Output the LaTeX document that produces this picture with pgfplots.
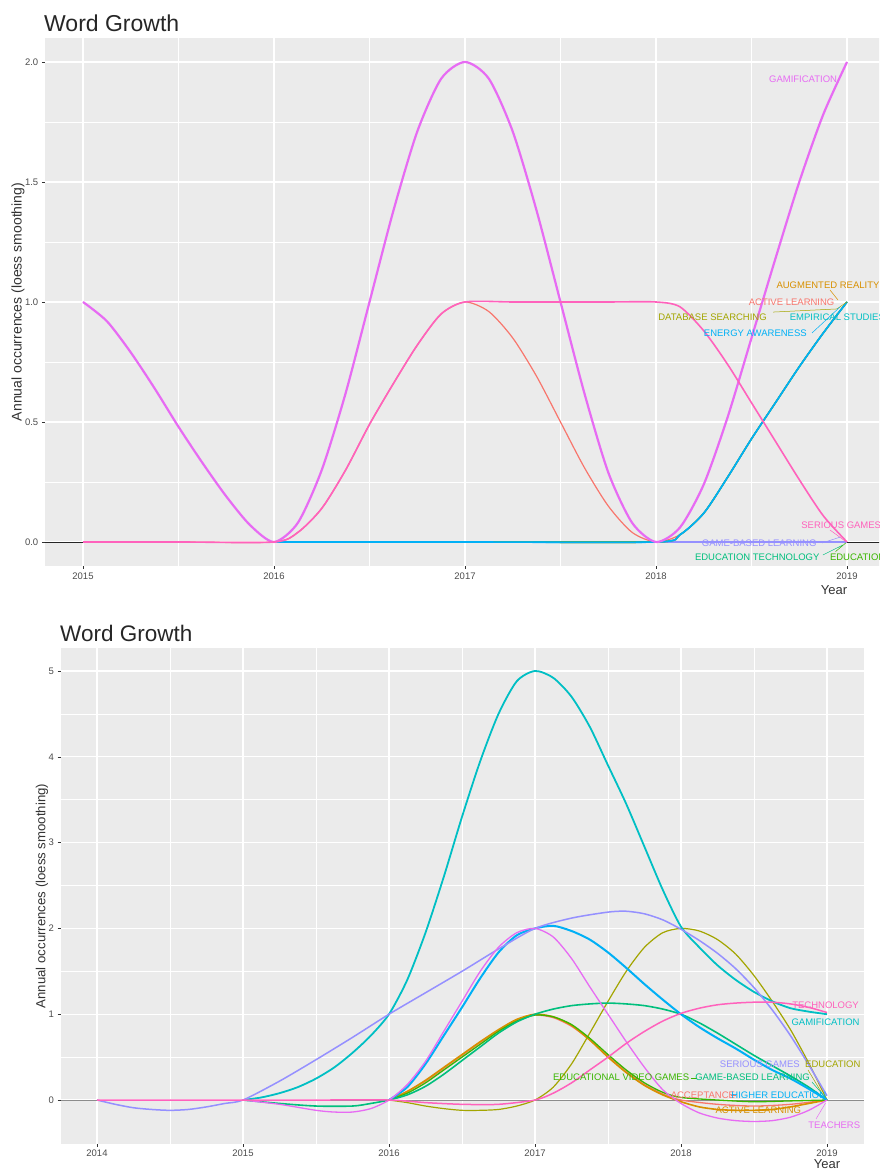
\documentclass[border=0pt]{standalone}
\usepackage{pgfplots}
\pgfplotsset{compat=1.18}
\usepackage{fontspec}
\setmainfont{Liberation Sans}
\definecolor{panel}{HTML}{EBEBEB}
\definecolor{hA}{HTML}{F8766D}
\definecolor{hB}{HTML}{D89000}
\definecolor{hC}{HTML}{A3A500}
\definecolor{hD}{HTML}{39B600}
\definecolor{hE}{HTML}{00BF7D}
\definecolor{hF}{HTML}{00BFC4}
\definecolor{hG}{HTML}{00B0F6}
\definecolor{hH}{HTML}{9590FF}
\definecolor{hI}{HTML}{E76BF3}
\definecolor{hJ}{HTML}{FF62BC}
\pgfplotsset{
  gg/.style={
    scale only axis, clip=false,
    axis background/.style={fill=panel},
    axis line style={draw=none},
    grid=both,
    major grid style={white, line width=1.1pt},
    minor grid style={white, line width=0.55pt},
    tick align=outside, tick pos=left,
    major tick length=3pt, minor tick length=0pt,
    tick style={black!80, line width=0.5pt},
    tick label style={font=\fontsize{9.5}{10}\selectfont, text=black!70},
    /pgf/number format/assume math mode=true,
  },
}
\tikzset{
  sm/.style={smooth, tension=0.45, line join=round},
  lab/.style={font=\fontsize{9.5}{10}\selectfont, inner sep=0pt},
}
\begin{document}
\begin{tikzpicture}
\path[use as bounding box] (0,0) rectangle (879pt,1169pt);
\clip (0,0) rectangle (879pt,1169pt);

% ---------------- top panel ----------------
\begin{axis}[gg,
  at={(44.8pt,603pt)}, anchor=south west,
  width=840.4pt, height=528pt,
  xmin=2014.8, xmax=2019.2, ymin=-0.1, ymax=2.1,
  xtick={2015,2016,2017,2018,2019}, xticklabels={2015,2016,2017,2018,2019},
  minor xtick={2015.5,2016.5,2017.5,2018.5},
  ytick={0,0.5,1,1.5,2}, yticklabels={0.0,0.5,1.0,1.5,2.0},
  minor ytick={0.25,0.75,1.25,1.75},
]
\addplot[black!85, line width=0.7pt] coordinates {(2014.8,0) (2019.2,0)};
% zero series
\addplot[sm, hD, line width=1.4pt] coordinates {(2016,0) (2019,0)};
\addplot[sm, hE, line width=1.4pt] coordinates {(2016,0) (2019,0)};
\addplot[sm, hH, line width=1.4pt] coordinates {(2018,0) (2019,0)};
% ACTIVE LEARNING
\addplot[sm, hA, line width=1.2pt] coordinates {(2015,0) (2015.5,0) (2016,0) (2016.125,0.04) (2016.25,0.14) (2016.375,0.3) (2016.5,0.49) (2016.625,0.66) (2016.75,0.82) (2016.875,0.95) (2017,1.0) (2017.125,0.96) (2017.25,0.85) (2017.375,0.69) (2017.5,0.5) (2017.625,0.31) (2017.75,0.15) (2017.875,0.04) (2018,0) (2018.125,0.03) (2018.25,0.12) (2018.375,0.27) (2018.5,0.43) (2018.625,0.58) (2018.75,0.73) (2018.875,0.87) (2019,1.0)};
% AUGMENTED REALITY
\addplot[sm, hB, line width=1.4pt] coordinates {(2016,0) (2017,0) (2018,0) (2018.125,0.03) (2018.25,0.12) (2018.375,0.27) (2018.5,0.43) (2018.625,0.58) (2018.75,0.73) (2018.875,0.87) (2019,1.0)};
% DATABASE SEARCHING
\addplot[sm, hC, line width=1.4pt] coordinates {(2016,0) (2017,0) (2018,0) (2018.125,0.03) (2018.25,0.12) (2018.375,0.27) (2018.5,0.43) (2018.625,0.58) (2018.75,0.73) (2018.875,0.87) (2019,1.0)};
% EMPIRICAL STUDIES
\addplot[sm, hF, line width=1.5pt] coordinates {(2016,0) (2017,0) (2018,0) (2018.125,0.03) (2018.25,0.12) (2018.375,0.27) (2018.5,0.43) (2018.625,0.58) (2018.75,0.73) (2018.875,0.87) (2019,1.0)};
% ENERGY AWARENESS
\addplot[sm, hG, line width=1.6pt] coordinates {(2016,0) (2017,0) (2018,0) (2018.125,0.03) (2018.25,0.12) (2018.375,0.27) (2018.5,0.43) (2018.625,0.58) (2018.75,0.73) (2018.875,0.87) (2019,1.0)};
% GAMIFICATION
\addplot[sm, hI, line width=2.2pt] coordinates {(2015,1) (2015.125,0.92) (2015.25,0.79) (2015.375,0.64) (2015.5,0.48) (2015.625,0.33) (2015.75,0.19) (2015.875,0.07) (2016,0) (2016.125,0.08) (2016.25,0.30) (2016.375,0.62) (2016.5,1.0) (2016.625,1.38) (2016.75,1.71) (2016.875,1.93) (2017,2.0) (2017.125,1.93) (2017.25,1.71) (2017.375,1.38) (2017.5,1.0) (2017.625,0.62) (2017.75,0.29) (2017.875,0.08) (2018,0) (2018.125,0.06) (2018.25,0.24) (2018.375,0.52) (2018.5,0.85) (2018.625,1.18) (2018.75,1.5) (2018.875,1.78) (2019,2.0)};
% SERIOUS GAMES
\addplot[sm, hJ, line width=1.6pt] coordinates {(2015,0) (2015.5,0) (2016,0) (2016.125,0.04) (2016.25,0.14) (2016.375,0.3) (2016.5,0.49) (2016.625,0.66) (2016.75,0.82) (2016.875,0.95) (2017,1.0) (2017.25,1.0) (2017.5,1.0) (2017.75,1.0) (2018,1.0) (2018.125,0.98) (2018.25,0.88) (2018.375,0.74) (2018.5,0.58) (2018.625,0.42) (2018.75,0.26) (2018.875,0.11) (2019,0)};
% label segments
\draw[hC, line width=0.5pt] (axis cs:2018.613,0.958) -- (axis cs:2018.947,0.971) -- (axis cs:2019,1);
\draw[hG, line width=0.5pt] (axis cs:2018.817,0.871) -- (axis cs:2018.963,0.979);
\draw[hB, line width=0.5pt] (axis cs:2018.911,1.05) -- (axis cs:2018.953,1.008);
\draw[hJ, line width=0.5pt] (axis cs:2018.911,0.05) -- (axis cs:2018.99,0.004);
\draw[hH, line width=0.5pt] (axis cs:2018.87,-0.004) -- (axis cs:2018.963,0.02);
\draw[hE, line width=0.5pt] (axis cs:2018.874,-0.054) -- (axis cs:2018.979,-0.0125);
\draw[hD, line width=0.5pt] (axis cs:2018.94,-0.04) -- (axis cs:2018.995,-0.003);
% labels
\node[lab, text=hI] at (axis cs:2018.77,1.93) {GAMIFICATION};
\node[lab, text=hB, anchor=west] at (axis cs:2018.63,1.07) {AUGMENTED REALITY};
\node[lab, text=hA] at (axis cs:2018.71,1.0) {ACTIVE LEARNING};
\node[lab, text=hC] at (axis cs:2018.296,0.9375) {DATABASE SEARCHING};
\node[lab, text=hF, anchor=west] at (axis cs:2018.70,0.9375) {EMPIRICAL STUDIES};
\node[lab, text=hG] at (axis cs:2018.52,0.871) {ENERGY AWARENESS};
\node[lab, text=hJ, anchor=west] at (axis cs:2018.76,0.07) {SERIOUS GAMES};
\node[lab, text=hH] at (axis cs:2018.54,-0.004) {GAME-BASED LEARNING};
\node[lab, text=hE] at (axis cs:2018.53,-0.0625) {EDUCATION TECHNOLOGY};
\node[lab, text=hD, anchor=west] at (axis cs:2018.91,-0.0625) {EDUCATION};
\end{axis}

% ---------------- bottom panel ----------------
\begin{axis}[gg,
  at={(60.5pt,25.2pt)}, anchor=south west,
  width=803pt, height=496pt,
  xmin=2013.75, xmax=2019.25, ymin=-0.51, ymax=5.27,
  xtick={2014,2015,2016,2017,2018,2019}, xticklabels={2014,2015,2016,2017,2018,2019},
  minor xtick={2014.5,2015.5,2016.5,2017.5,2018.5},
  ytick={0,1,2,3,4,5}, yticklabels={0,1,2,3,4,5},
  minor ytick={0.5,1.5,2.5,3.5,4.5},
]
\addplot[black!45, line width=0.8pt] coordinates {(2013.75,0) (2019.25,0)};
% ACCEPTANCE
\addplot[sm, hA, line width=1.3pt] coordinates {(2016,0) (2016.125,0.1) (2016.25,0.22) (2016.375,0.37) (2016.5,0.52) (2016.625,0.67) (2016.75,0.81) (2016.875,0.93) (2017,0.99) (2017.125,0.96) (2017.25,0.86) (2017.375,0.7) (2017.5,0.51) (2017.625,0.33) (2017.75,0.18) (2017.875,0.07) (2018,0.0) (2018.25,-0.05) (2018.5,-0.07) (2018.75,-0.05) (2019,0)};
% ACTIVE LEARNING
\addplot[sm, hB, line width=1.6pt] coordinates {(2016,0) (2016.125,0.1) (2016.25,0.23) (2016.375,0.38) (2016.5,0.53) (2016.625,0.68) (2016.75,0.82) (2016.875,0.94) (2017,1.0) (2017.125,0.97) (2017.25,0.87) (2017.375,0.7) (2017.5,0.5) (2017.625,0.32) (2017.75,0.17) (2017.875,0.06) (2018,-0.02) (2018.125,-0.08) (2018.25,-0.11) (2018.375,-0.12) (2018.5,-0.12) (2018.625,-0.11) (2018.75,-0.08) (2018.875,-0.04) (2019,0)};
% EDUCATION
\addplot[sm, hC, line width=1.2pt] coordinates {(2016,0) (2016.125,-0.03) (2016.25,-0.07) (2016.375,-0.1) (2016.5,-0.12) (2016.625,-0.12) (2016.75,-0.11) (2016.875,-0.07) (2017,0) (2017.125,0.15) (2017.25,0.42) (2017.375,0.78) (2017.5,1.15) (2017.625,1.5) (2017.75,1.78) (2017.875,1.95) (2018,2.0) (2018.125,1.97) (2018.25,1.87) (2018.375,1.7) (2018.5,1.45) (2018.625,1.15) (2018.75,0.82) (2018.875,0.43) (2019,0)};
% EDUCATIONAL VIDEO GAMES
\addplot[sm, hD, line width=1.3pt] coordinates {(2016,0) (2016.125,0.08) (2016.25,0.2) (2016.375,0.35) (2016.5,0.5) (2016.625,0.65) (2016.75,0.8) (2016.875,0.92) (2017,0.99) (2017.125,0.97) (2017.25,0.88) (2017.375,0.72) (2017.5,0.53) (2017.625,0.35) (2017.75,0.2) (2017.875,0.09) (2018,0.03) (2018.25,0.0) (2018.5,-0.02) (2018.75,-0.01) (2019,0)};
% GAME-BASED LEARNING
\addplot[sm, hE, line width=1.6pt] coordinates {(2015,0) (2015.25,-0.04) (2015.5,-0.07) (2015.75,-0.07) (2015.875,-0.04) (2016,0) (2016.125,0.06) (2016.25,0.16) (2016.375,0.3) (2016.5,0.46) (2016.625,0.62) (2016.75,0.78) (2016.875,0.91) (2017,1.0) (2017.125,1.06) (2017.25,1.1) (2017.375,1.12) (2017.5,1.13) (2017.625,1.12) (2017.75,1.1) (2017.875,1.06) (2018,1.0) (2018.125,0.9) (2018.25,0.78) (2018.375,0.65) (2018.5,0.52) (2018.625,0.4) (2018.75,0.28) (2018.875,0.15) (2019,0)};
% GAMIFICATION
\addplot[sm, hF, line width=1.8pt] coordinates {(2015,0) (2015.125,0.03) (2015.25,0.08) (2015.375,0.15) (2015.5,0.25) (2015.625,0.38) (2015.75,0.55) (2015.875,0.75) (2016,1.0) (2016.125,1.4) (2016.25,1.95) (2016.375,2.6) (2016.5,3.3) (2016.625,3.95) (2016.75,4.5) (2016.875,4.88) (2017,5.0) (2017.125,4.92) (2017.25,4.7) (2017.375,4.35) (2017.5,3.9) (2017.625,3.45) (2017.75,2.95) (2017.875,2.45) (2018,2.02) (2018.125,1.78) (2018.25,1.57) (2018.375,1.4) (2018.5,1.26) (2018.625,1.15) (2018.75,1.07) (2018.875,1.03) (2019,1.0)};
% HIGHER EDUCATION
\addplot[sm, hG, line width=2.0pt] coordinates {(2016,0) (2016.125,0.15) (2016.25,0.42) (2016.375,0.75) (2016.5,1.08) (2016.625,1.42) (2016.75,1.72) (2016.875,1.92) (2017,2.0) (2017.125,2.03) (2017.25,1.97) (2017.375,1.87) (2017.5,1.72) (2017.625,1.54) (2017.75,1.35) (2017.875,1.17) (2018,1.0) (2018.125,0.85) (2018.25,0.72) (2018.375,0.6) (2018.5,0.47) (2018.625,0.35) (2018.75,0.25) (2018.875,0.13) (2019,0)};
% SERIOUS GAMES
\addplot[sm, hH, line width=1.5pt] coordinates {(2014,0) (2014.125,-0.05) (2014.25,-0.09) (2014.375,-0.11) (2014.5,-0.12) (2014.625,-0.11) (2014.75,-0.08) (2014.875,-0.04) (2015,0) (2015.25,0.22) (2015.5,0.47) (2015.75,0.73) (2016,1.0) (2016.25,1.25) (2016.5,1.5) (2016.75,1.76) (2017,2.0) (2017.25,2.12) (2017.5,2.19) (2017.625,2.2) (2017.75,2.17) (2017.875,2.1) (2018,1.99) (2018.125,1.86) (2018.25,1.71) (2018.375,1.53) (2018.5,1.31) (2018.625,1.05) (2018.75,0.75) (2018.875,0.41) (2019,0.05)};
% TEACHERS
\addplot[sm, hI, line width=1.3pt] coordinates {(2015,0) (2015.25,-0.05) (2015.5,-0.12) (2015.625,-0.14) (2015.75,-0.14) (2015.875,-0.1) (2016,0) (2016.125,0.18) (2016.25,0.45) (2016.375,0.8) (2016.5,1.15) (2016.625,1.5) (2016.75,1.78) (2016.875,1.95) (2017,2.0) (2017.125,1.9) (2017.25,1.65) (2017.375,1.32) (2017.5,1.0) (2017.625,0.68) (2017.75,0.38) (2017.875,0.12) (2018,-0.04) (2018.125,-0.15) (2018.25,-0.21) (2018.375,-0.24) (2018.5,-0.25) (2018.625,-0.24) (2018.75,-0.2) (2018.875,-0.12) (2019,0)};
% TECHNOLOGY
\addplot[sm, hJ, line width=1.5pt] coordinates {(2014,0) (2014.5,0) (2015,0) (2015.5,0) (2016,0) (2016.25,-0.03) (2016.5,-0.05) (2016.75,-0.05) (2017,0.0) (2017.125,0.08) (2017.25,0.2) (2017.375,0.35) (2017.5,0.5) (2017.625,0.66) (2017.75,0.8) (2017.875,0.92) (2018,1.01) (2018.125,1.07) (2018.25,1.11) (2018.375,1.13) (2018.5,1.14) (2018.625,1.14) (2018.75,1.12) (2018.875,1.08) (2019,1.02)};
% label segments
\draw[hD, line width=0.5pt] (axis cs:2018.068,0.256) -- (axis cs:2018.11,0.256);
\draw[hA, line width=0.5pt] (axis cs:2018.342,0.058) -- (axis cs:2018.377,0.058);
\draw[hC, line width=0.5pt] (axis cs:2018.87,0.35) -- (axis cs:2018.973,0.058);
\draw[hI, line width=0.5pt] (axis cs:2018.925,-0.22) -- (axis cs:2018.99,-0.035);
\draw[hE, line width=0.5pt] (axis cs:2018.897,0.21) -- (axis cs:2018.986,0.035);
% labels
\node[lab, text=hJ] at (axis cs:2018.99,1.11) {TECHNOLOGY};
\node[lab, text=hF] at (axis cs:2018.99,0.91) {GAMIFICATION};
\node[lab, text=hH] at (axis cs:2018.54,0.42) {SERIOUS GAMES};
\node[lab, text=hC] at (axis cs:2019.04,0.42) {EDUCATION};
\node[lab, text=hD] at (axis cs:2017.59,0.26) {EDUCATIONAL VIDEO GAMES};
\node[lab, text=hE] at (axis cs:2018.49,0.26) {GAME-BASED LEARNING};
\node[lab, text=hA] at (axis cs:2018.15,0.06) {ACCEPTANCE};
\node[lab, text=hG] at (axis cs:2018.67,0.06) {HIGHER EDUCATION};
\node[lab, text=hB] at (axis cs:2018.53,-0.12) {ACTIVE LEARNING};
\node[lab, text=hI] at (axis cs:2019.05,-0.29) {TEACHERS};
\end{axis}

% titles and axis titles
\node[anchor=base west, inner sep=0pt, text=black!85, font=\fontsize{23}{24}\selectfont] at (44pt,1137pt) {Word Growth};
\node[anchor=base west, inner sep=0pt, text=black!85, font=\fontsize{22.5}{24}\selectfont] at (60pt,527pt) {Word Growth};
\node[rotate=90, inner sep=0pt, text=black!80, font=\fontsize{14}{15}\selectfont] at (18pt,867pt) {Annual occurrences (loess smoothing)};
\node[rotate=90, inner sep=0pt, text=black!80, font=\fontsize{13.2}{14}\selectfont] at (42pt,273pt) {Annual occurrences (loess smoothing)};
\node[inner sep=0pt, text=black!80, font=\fontsize{13}{14}\selectfont] at (834pt,579pt) {Year};
\node[anchor=north, inner sep=0pt, text=black!80, font=\fontsize{13}{14}\selectfont] at (827pt,10pt) {Year};
\end{tikzpicture}
\end{document}
